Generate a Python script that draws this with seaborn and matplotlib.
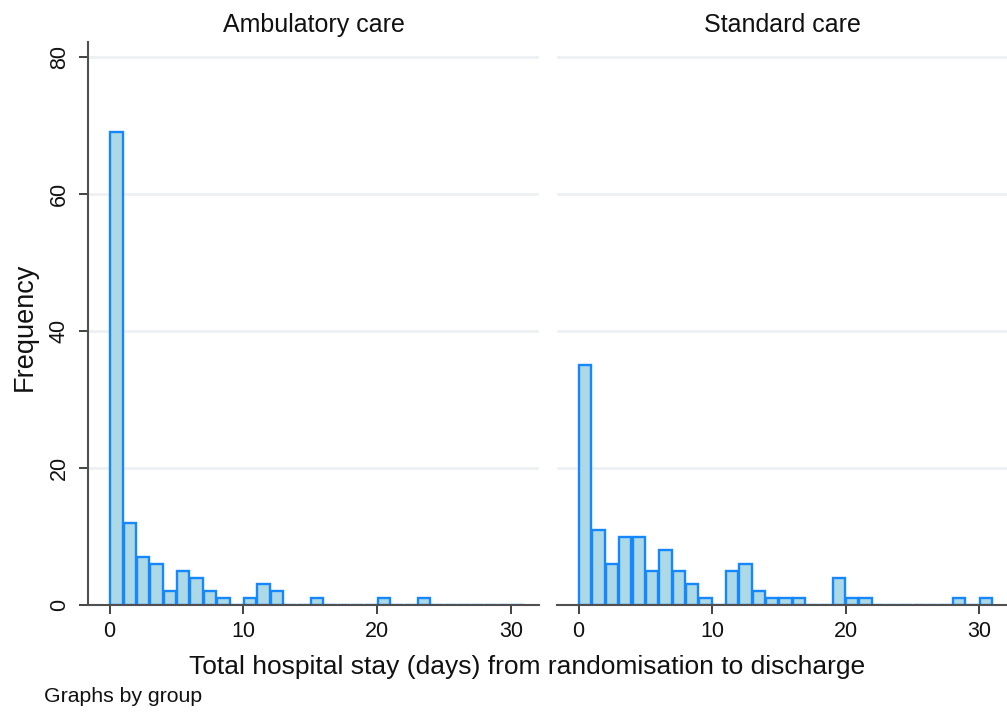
import numpy as np
import pandas as pd
import matplotlib
matplotlib.use("Agg")
import matplotlib.pyplot as plt
import seaborn as sns

# ---- data ----
groups = ["Ambulatory care", "Standard care"]
amb_days = [0, 1, 2, 3, 4, 5, 6, 7, 8, 10, 11, 12, 15, 20, 23]
amb_counts = [69, 12, 7, 6, 2, 5, 4, 2, 1, 1, 3, 2, 1, 1, 1]
std_days = [0, 1, 2, 3, 4, 5, 6, 7, 8, 9, 11, 12, 13, 14, 15, 16, 19, 20, 21, 28, 30]
std_counts = [35, 11, 6, 10, 10, 5, 8, 5, 3, 1, 5, 6, 2, 1, 1, 1, 4, 1, 1, 1, 1]
x_ticks = [0, 10, 20, 30]
y_ticks = [0, 20, 40, 60, 80]

df = pd.concat([
    pd.DataFrame({"group": groups[0], "days": amb_days, "count": amb_counts}),
    pd.DataFrame({"group": groups[1], "days": std_days, "count": std_counts}),
], ignore_index=True)

sns.set_theme(style="white")
plt.rcParams["font.family"] = ["Liberation Sans", "DejaVu Sans"]

W, H = 1007, 713
fig = plt.figure(figsize=(W / 100, H / 100), dpi=100)

fill = "#ADD8E6"
edge = "#1588FF"
grid_c = "#EEF1F4"
axis_c = "#505050"

panels = [(88, 539), (557, 1007)]
top_px, bot_px = 42, 605

for i, (g, (l, r)) in enumerate(zip(groups, panels)):
    ax = fig.add_axes([l / W, 1 - bot_px / H, (r - l) / W, (bot_px - top_px) / H])
    sub = df[df["group"] == g]
    sns.histplot(data=sub, x="days", weights="count", binwidth=1, binrange=(0, 31), ax=ax,
                 color=fill, edgecolor=edge, linewidth=1.7, alpha=1.0, shrink=0.92)
    ax.set_xlim(-1.62, 32.1)
    ax.set_ylim(0, 82.2)
    ax.set_xticks(x_ticks)
    ax.set_yticks(y_ticks)
    for yv in y_ticks[1:]:
        ax.axhline(yv, color=grid_c, lw=2, zorder=0)
    ax.set_axisbelow(True)
    for s in ["top", "right"]:
        ax.spines[s].set_visible(False)
    ax.spines["bottom"].set_color(axis_c)
    ax.spines["bottom"].set_linewidth(1.5)
    ax.tick_params(axis="x", bottom=True, length=6.5, width=1.2, color="#222222",
                   labelsize=15.5, pad=5, labelcolor="#111111")
    if i == 0:
        ax.spines["left"].set_color(axis_c)
        ax.spines["left"].set_linewidth(1.5)
        ax.tick_params(axis="y", left=True, length=6.5, width=1.2, color="#222222",
                       labelsize=15.5, pad=6.5, labelcolor="#111111")
        for lab in ax.get_yticklabels():
            lab.set_rotation(90)
            lab.set_va("center")
    else:
        ax.spines["left"].set_visible(False)
        ax.tick_params(axis="y", left=False, labelleft=False)
    ax.set_xlabel("")
    ax.set_ylabel("")
    ax.set_title(g, fontsize=18, pad=7, color="#111111")

fig.text(0.025, 1 - 327 / H, "Frequency", rotation=90, ha="center", va="center",
         fontsize=19.5, color="#111111")
fig.text(527 / W, 1 - 667 / H, "Total hospital stay (days) from randomisation to discharge",
         ha="center", va="center", fontsize=19, color="#111111")
fig.text(44 / W, 1 - 697 / H, "Graphs by group", ha="left", va="center",
         fontsize=15.3, color="#111111")

fig.savefig("out.png", dpi=100, facecolor="white")
